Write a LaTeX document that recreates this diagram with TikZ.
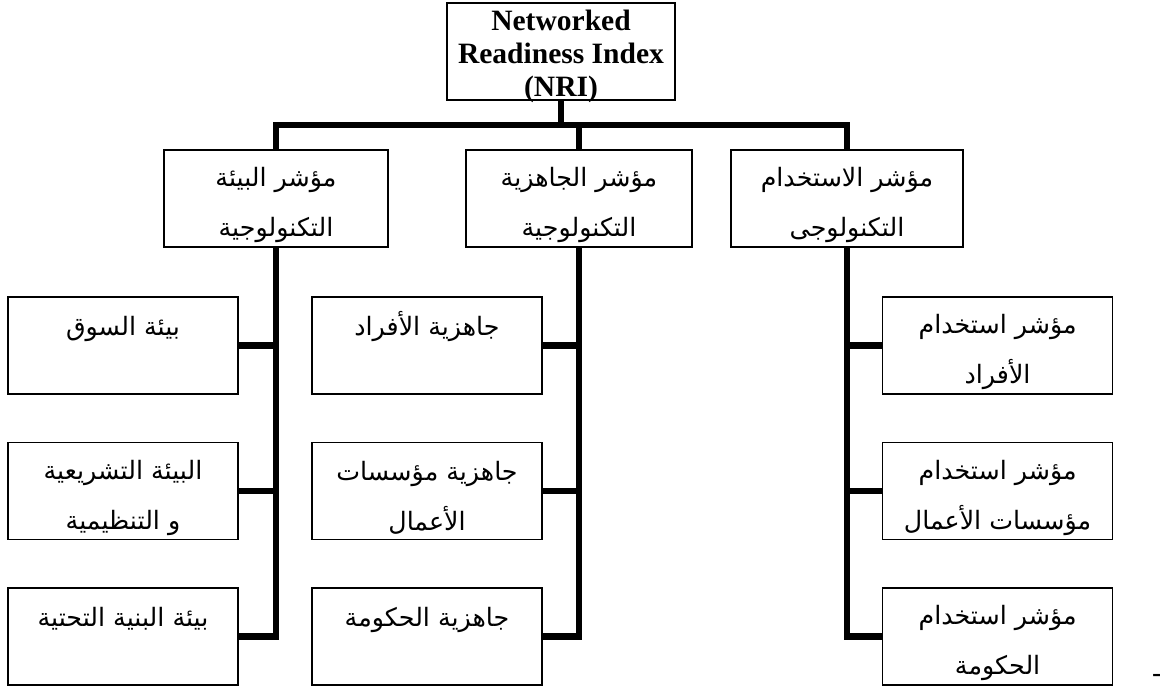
\documentclass[tikz,border=0pt]{standalone}
\usepackage{fontspec}
\setmainfont{Liberation Serif}
\newfontfamily\arabicfont[Script=Arabic]{DejaVu Sans}
\TeXXeTstate=1
\newcommand{\arstrut}{\rule[-2pt]{0pt}{25pt}}
\newcommand{\arline}[1]{\arstrut\beginR #1\endR}
\tikzset{
	box/.style={draw, line width=0.8pt, inner sep=0pt, align=center,
		minimum height=2.425cm},
	arbox/.style={box, font=\arabicfont\fontsize{18}{35.5}\selectfont},
	conn/.style={line width=4.3pt, line join=miter},
}
\begin{document}
\begin{tikzpicture}
	\useasboundingbox (0,0) rectangle (29,-17.225);
	% top of the tree
	\node[box, minimum width=5.7cm, font=\bfseries\fontsize{21}{23.5}\selectfont]
		(nri) at (14.025,-1.2875) {\rule{0pt}{17pt}Networked\\Readiness Index\\\smash{(NRI)}};
	
	% the three sub-indices
	\node[arbox, minimum width=5.6cm] (envi) at (6.9,-4.9625)
		{\arline{مؤشر البيئة}\\\arline{التكنولوجية}};
	\node[arbox, minimum width=5.65cm] (ready) at (14.475,-4.9625)
		{\arline{مؤشر الجاهزية}\\\arline{التكنولوجية}};
	\node[arbox, minimum width=5.8cm] (usage) at (21.175,-4.9625)
		{\arline{مؤشر الاستخدام}\\\arline{التكنولوجى}};
	
	% environment pillars
	\node[arbox, minimum width=5.75cm] (market) at (3.075,-8.6375)
		{\arline{بيئة السوق}\\\arstrut};
	\node[arbox, minimum width=5.75cm] (legal) at (3.075,-12.275)
		{\arline{البيئة التشريعية}\\\arline{و التنظيمية}};
	\node[arbox, minimum width=5.75cm] (infra) at (3.075,-15.9125)
		{\arline{بيئة البنية التحتية}\\\arstrut};
	
	% readiness pillars
	\node[arbox, minimum width=5.75cm] (indiv) at (10.675,-8.6375)
		{\arline{جاهزية الأفراد}\\\arstrut};
	\node[arbox, minimum width=5.75cm] (busi) at (10.675,-12.275)
		{\arline{جاهزية مؤسسات}\\\arline{الأعمال}};
	\node[arbox, minimum width=5.75cm] (gov) at (10.675,-15.9125)
		{\arline{جاهزية الحكومة}\\\arstrut};
	
	% usage pillars
	\node[arbox, minimum width=5.75cm] (uindiv) at (24.94,-8.6375)
		{\arline{مؤشر استخدام}\\\arline{الأفراد}};
	\node[arbox, minimum width=5.75cm] (ubusi) at (24.94,-12.275)
		{\arline{مؤشر استخدام}\\\arline{مؤسسات الأعمال}};
	\node[arbox, minimum width=5.75cm] (ugov) at (24.94,-15.9125)
		{\arline{مؤشر استخدام}\\\arline{الحكومة}};
	
	\node[font=\fontsize{21}{23.5}\selectfont] (dash) at (28.925,-16.95) {-};
	
	% bus under the NRI box
	\coordinate (bus) at (14.025,-3.125);
	\draw[conn] (nri.south) -- (bus);
	\draw[conn] (envi.north) |- (bus) -| (usage.north);
	\draw[conn] (bus -| ready.north) -- (ready.north);
	
	% spines down to the pillars
	\foreach \n in {market,legal,infra}
		\draw[conn] (envi.south) |- (\n.east);
	\foreach \n in {indiv,busi,gov}
		\draw[conn] (ready.south) |- (\n.east);
	\foreach \n in {uindiv,ubusi,ugov}
		\draw[conn] (usage.south) |- (\n.west);
\end{tikzpicture}
\end{document}
